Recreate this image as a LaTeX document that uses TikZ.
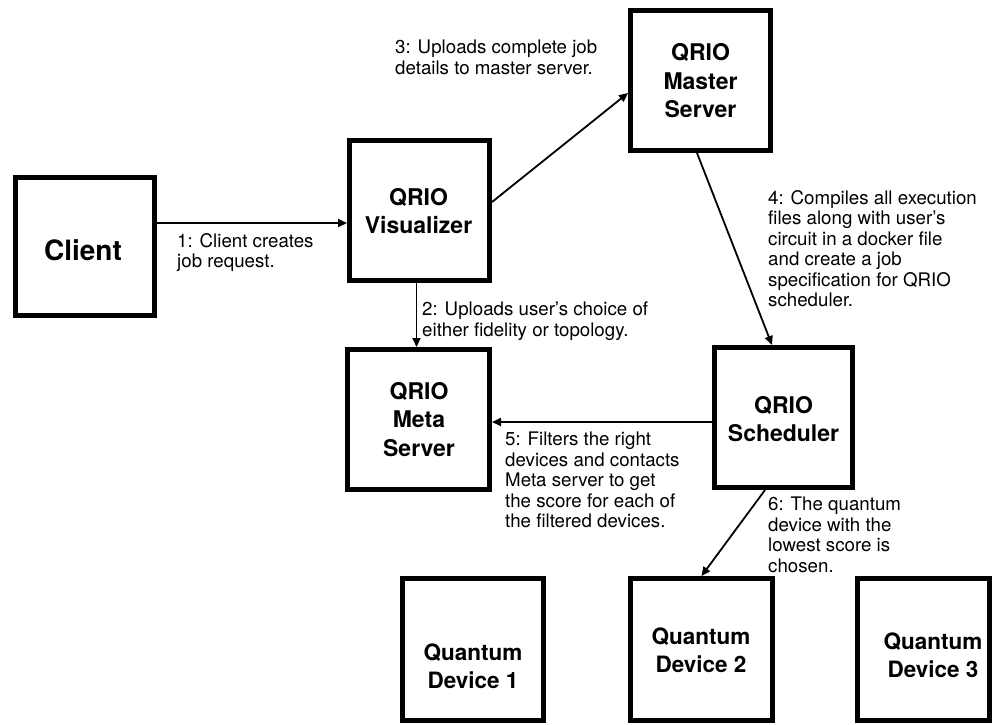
\documentclass[tikz,border=0pt]{standalone}
\usepackage{fontspec}
\setmainfont{TeX Gyre Heros}
\usetikzlibrary{arrows.meta}
\begin{document}
\begin{tikzpicture}[x=1pt,y=-1pt,
  box/.style={draw, line width=5pt, rectangle, inner sep=0pt},
  boxtext/.style={font=\fontsize{23}{28.5}\selectfont\bfseries, align=center, inner sep=0pt},
  devtext/.style={font=\fontsize{22.5}{28}\selectfont\bfseries, align=center, inner sep=0pt},
  lab/.style={font=\fontsize{18.7}{20.5}\selectfont, align=left, anchor=north west, inner sep=0pt},
  arr/.style={line width=1.8pt, -{Triangle[length=9pt,width=8pt]}}]
\useasboundingbox (0,0) rectangle (992,724);

% boxes (outer edges measured from reference)
\node[box, minimum width=139pt, minimum height=138pt] (client) at (85,246.5) {};
\node[box, minimum width=140pt, minimum height=140pt] (vis) at (419.5,210.5) {};
\node[box, minimum width=140pt, minimum height=140pt] (master) at (700.5,80.5) {};
\node[box, minimum width=142pt, minimum height=140pt] (meta) at (418.5,419.5) {};
\node[box, minimum width=138pt, minimum height=140pt] (sched) at (783.5,417.5) {};
\node[box, minimum width=141pt, minimum height=142pt] (dev1) at (473,649.5) {};
\node[box, minimum width=142pt, minimum height=142pt] (dev2) at (701.5,649.5) {};
\node[box, minimum width=132pt, minimum height=142pt] (dev3) at (923.5,649.5) {};

% box texts
\node[boxtext, font=\fontsize{28}{32}\selectfont\bfseries] (clientt) at (83,250) {Client};
\node[boxtext] (vist) at (418.5,211) {QRIO\\Visualizer};
\node[boxtext] (mastert) at (700.5,81) {QRIO\\Master\\Server};
\node[boxtext] (metat) at (419,419.5) {QRIO\\Meta\\Server};
\node[boxtext] (schedt) at (783.5,419) {QRIO\\Scheduler};
\node[devtext] (dev1t) at (473,666) {Quantum\\Device 1};
\node[devtext] (dev2t) at (701,650) {Quantum\\Device 2};
\node[devtext] (dev3t) at (933,655) {Quantum\\Device 3};

% connectors
\coordinate (a1) at ([yshift=-12.5pt]vis.west);
\draw[arr] (client.east |- a1) -- (a1);
\coordinate (a2) at ([xshift=-3pt]vis.south);
\draw[arr] (a2) -- (a2 |- meta.north);
\draw[arr] ([yshift=8.5pt]vis.east) -- ([yshift=-12.5pt]master.west);
\draw[arr] ([xshift=-3.5pt]master.south) -- ([xshift=-11.5pt]sched.north);
\coordinate (a5) at ([yshift=-4.5pt]sched.west);
\draw[arr] (a5) -- (meta.east |- a5);
\draw[arr] ([xshift=-18.5pt]sched.south) -- (dev2.north);

% labels
\node[lab] (l1) at (177,233) {1: Client creates\\job request.};
\node[lab] (l2) at (422,302) {2: Uploads user’s choice of\\either fidelity or topology.};
\node[lab] (l3) at (395,40) {3: Uploads complete job\\details to master server.};
\node[lab] (l4) at (768,190) {4: Compiles all execution\\files along with user’s\\circuit in a docker file\\and create a job\\specification for QRIO\\scheduler.};
\node[lab] (l5) at (505,432) {5: Filters the right\\devices and contacts\\Meta server to get\\the score for each of\\the filtered devices.};
\node[lab] (l6) at (768,497) {6: The quantum\\device with the\\lowest score is\\chosen.};
\end{tikzpicture}
\end{document}
